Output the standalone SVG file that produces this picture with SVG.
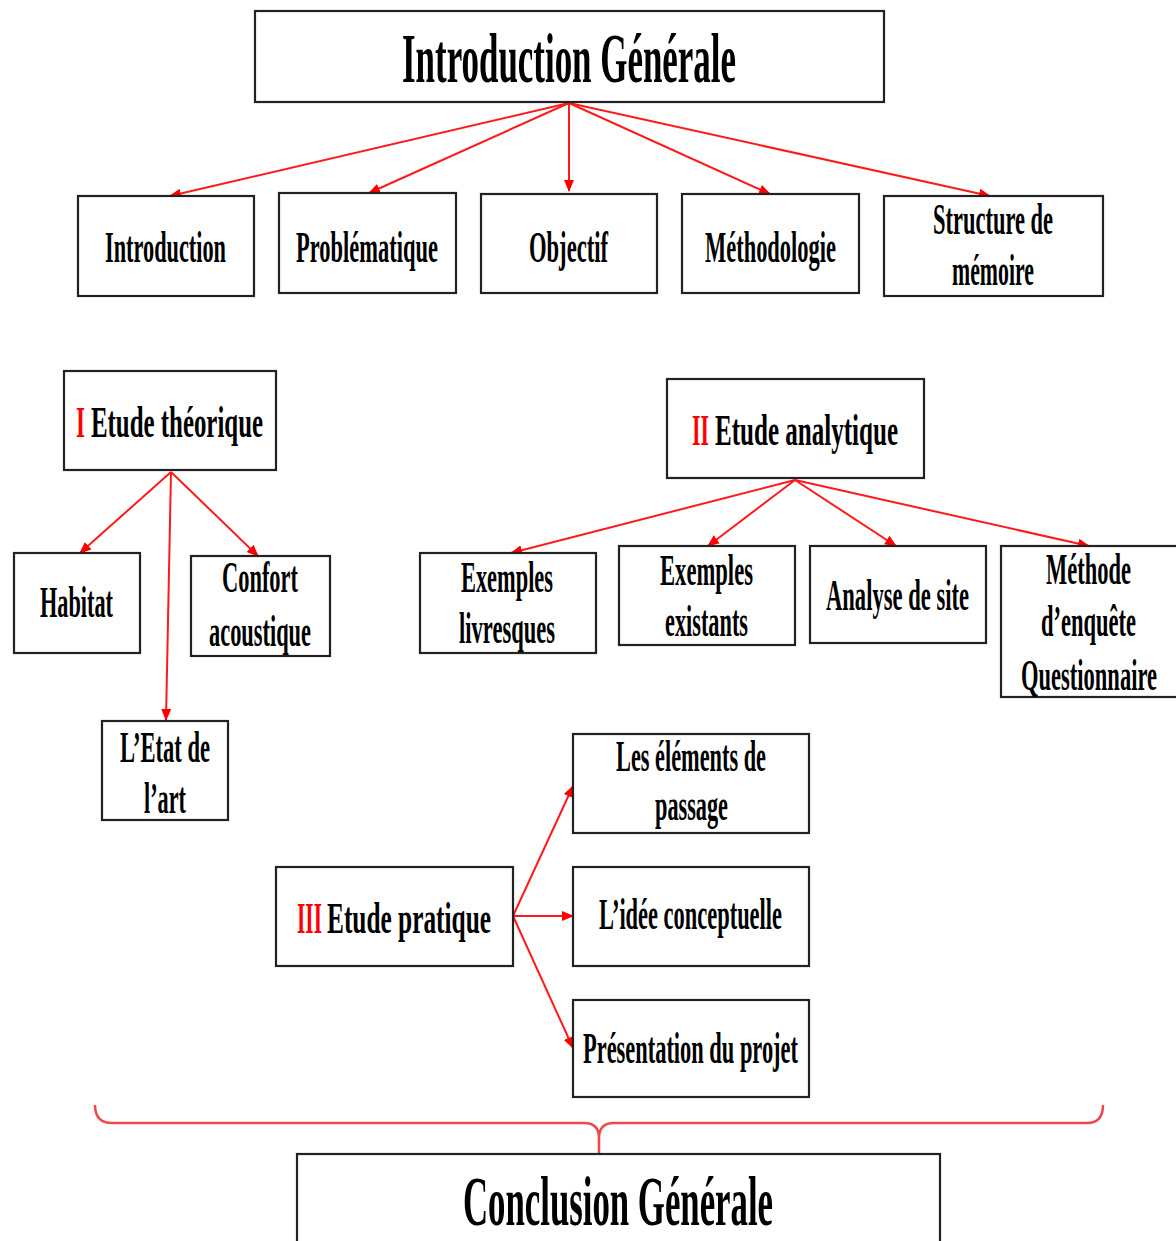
<svg xmlns="http://www.w3.org/2000/svg" width="1176" height="1241" viewBox="0 0 1176 1241">
<defs>
<style>
.box{fill:#fff;stroke:#222;stroke-width:2.2}
.t{font-family:"Liberation Serif","Times New Roman",serif;font-weight:bold;fill:#000}
.m{font-size:44px}
.red{fill:#ff0000}
.c{stroke:#ff1a1a;stroke-width:2;fill:none;marker-end:url(#ah)}
</style>
<marker id="ah" markerUnits="userSpaceOnUse" markerWidth="12" markerHeight="12" viewBox="0 0 12 12" refX="11" refY="6" orient="auto">
<path d="M0,1 L12,6 L0,11 Z" fill="#ff0000"/>
</marker>
</defs>
<rect width="1176" height="1241" fill="#fff"/>

<g id="connectors">
<line class="c" x1="569" y1="103" x2="170" y2="196"/>
<line class="c" x1="569" y1="103" x2="369" y2="193"/>
<line class="c" x1="569" y1="103" x2="569" y2="191"/>
<line class="c" x1="569" y1="103" x2="770" y2="194"/>
<line class="c" x1="569" y1="103" x2="990" y2="196"/>
<line class="c" x1="171" y1="472" x2="80" y2="553"/>
<line class="c" x1="171" y1="472" x2="166" y2="720"/>
<line class="c" x1="171" y1="472" x2="258" y2="556"/>
<line class="c" x1="795" y1="480" x2="511" y2="553"/>
<line class="c" x1="795" y1="480" x2="708" y2="546"/>
<line class="c" x1="795" y1="480" x2="896" y2="546"/>
<line class="c" x1="795" y1="480" x2="1089" y2="546"/>
<line class="c" x1="513" y1="916" x2="573" y2="786"/>
<line class="c" x1="513" y1="916" x2="573" y2="916"/>
<line class="c" x1="513" y1="916" x2="573" y2="1048"/>
<path d="M95,1105 Q95,1123 112,1123 L584,1123 Q599,1123 599,1138 L599,1153 M599,1138 Q599,1123 614,1123 L1087,1123 Q1103,1123 1103,1105" fill="none" stroke="#f04848" stroke-width="2.5"/>
</g>

<g id="intro-generale">
<rect class="box" x="255" y="11" width="629" height="91"/>
<text class="t" x="402" y="82" font-size="70" textLength="334" lengthAdjust="spacingAndGlyphs">Introduction Générale</text>
</g>

<g id="introduction">
<rect class="box" x="78" y="196" width="176" height="100"/>
<text class="t m" x="105" y="262" textLength="121" lengthAdjust="spacingAndGlyphs">Introduction</text>
</g>
<g id="problematique">
<rect class="box" x="279" y="193" width="177" height="100"/>
<text class="t m" x="296" y="262" textLength="142" lengthAdjust="spacingAndGlyphs">Problématique</text>
</g>
<g id="objectif">
<rect class="box" x="481" y="194" width="176" height="99"/>
<text class="t m" x="529" y="262" textLength="79" lengthAdjust="spacingAndGlyphs">Objectif</text>
</g>
<g id="methodologie">
<rect class="box" x="682" y="194" width="177" height="99"/>
<text class="t m" x="705" y="262" textLength="131" lengthAdjust="spacingAndGlyphs">Méthodologie</text>
</g>
<g id="structure">
<rect class="box" x="884" y="196" width="219" height="100"/>
<text class="t m" x="933" y="234" textLength="120" lengthAdjust="spacingAndGlyphs">Structure de</text>
<text class="t m" x="952" y="285" textLength="82" lengthAdjust="spacingAndGlyphs">mémoire</text>
</g>

<g id="etude-theorique">
<rect class="box" x="64" y="371" width="212" height="99"/>
<text class="t red" x="76" y="437" font-size="45" textLength="9" lengthAdjust="spacingAndGlyphs">I</text>
<text class="t" x="91" y="437" font-size="45" textLength="172" lengthAdjust="spacingAndGlyphs">Etude théorique</text>
</g>
<g id="habitat">
<rect class="box" x="14" y="553" width="126" height="100"/>
<text class="t m" x="40" y="617" textLength="73" lengthAdjust="spacingAndGlyphs">Habitat</text>
</g>
<g id="confort">
<rect class="box" x="191" y="556" width="139" height="100"/>
<text class="t m" x="222" y="592" textLength="76" lengthAdjust="spacingAndGlyphs">Confort</text>
<text class="t m" x="209" y="646" textLength="102" lengthAdjust="spacingAndGlyphs">acoustique</text>
</g>
<g id="etat-art">
<rect class="box" x="102" y="721" width="126" height="99"/>
<text class="t m" x="120" y="762" textLength="90" lengthAdjust="spacingAndGlyphs">L’Etat de</text>
<text class="t m" x="144" y="813" textLength="42" lengthAdjust="spacingAndGlyphs">l’art</text>
</g>

<g id="etude-analytique">
<rect class="box" x="667" y="379" width="257" height="99"/>
<text class="t red" x="692" y="445" font-size="45" textLength="17" lengthAdjust="spacingAndGlyphs">II</text>
<text class="t" x="715" y="445" font-size="45" textLength="183" lengthAdjust="spacingAndGlyphs">Etude analytique</text>
</g>
<g id="exemples-livresques">
<rect class="box" x="420" y="553" width="176" height="100"/>
<text class="t m" x="461" y="592" textLength="92" lengthAdjust="spacingAndGlyphs">Exemples</text>
<text class="t m" x="459" y="643" textLength="96" lengthAdjust="spacingAndGlyphs">livresques</text>
</g>
<g id="exemples-existants">
<rect class="box" x="619" y="546" width="176" height="99"/>
<text class="t m" x="660" y="585" textLength="93" lengthAdjust="spacingAndGlyphs">Exemples</text>
<text class="t m" x="665" y="636" textLength="83" lengthAdjust="spacingAndGlyphs">existants</text>
</g>
<g id="analyse-site">
<rect class="box" x="810" y="546" width="176" height="97"/>
<text class="t m" x="826" y="610" textLength="143" lengthAdjust="spacingAndGlyphs">Analyse de site</text>
</g>
<g id="methode-enquete">
<rect class="box" x="1001" y="546" width="180" height="151"/>
<text class="t m" x="1046" y="584" textLength="85" lengthAdjust="spacingAndGlyphs">Méthode</text>
<text class="t m" x="1041" y="636" textLength="95" lengthAdjust="spacingAndGlyphs">d’enquête</text>
<text class="t m" x="1021" y="690" textLength="136" lengthAdjust="spacingAndGlyphs">Questionnaire</text>
</g>

<g id="etude-pratique">
<rect class="box" x="276" y="867" width="237" height="99"/>
<text class="t red" x="297" y="933" font-size="45" textLength="25" lengthAdjust="spacingAndGlyphs">III</text>
<text class="t" x="327" y="933" font-size="45" textLength="164" lengthAdjust="spacingAndGlyphs">Etude pratique</text>
</g>
<g id="elements-passage">
<rect class="box" x="573" y="734" width="236" height="99"/>
<text class="t m" x="616" y="771" textLength="150" lengthAdjust="spacingAndGlyphs">Les éléments de</text>
<text class="t m" x="655" y="820" textLength="73" lengthAdjust="spacingAndGlyphs">passage</text>
</g>
<g id="idee-conceptuelle">
<rect class="box" x="573" y="867" width="236" height="99"/>
<text class="t m" x="599" y="929" textLength="183" lengthAdjust="spacingAndGlyphs">L’idée conceptuelle</text>
</g>
<g id="presentation-projet">
<rect class="box" x="573" y="1000" width="236" height="97"/>
<text class="t m" x="583" y="1063" textLength="215" lengthAdjust="spacingAndGlyphs">Présentation du projet</text>
</g>

<g id="conclusion-generale">
<rect class="box" x="297" y="1154" width="643" height="110"/>
<text class="t" x="463" y="1225" font-size="70" textLength="310" lengthAdjust="spacingAndGlyphs">Conclusion Générale</text>
</g>
</svg>
